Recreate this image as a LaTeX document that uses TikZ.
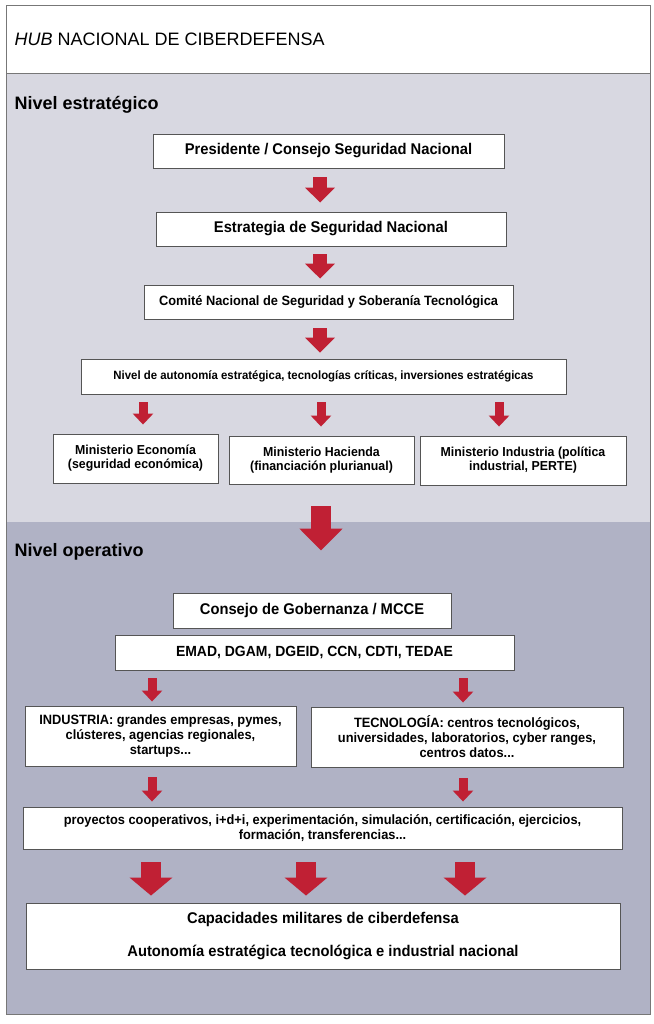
\documentclass[tikz,border=0pt]{standalone}
\usepackage{fontspec}
\usepackage[RGB]{xcolor}
\usetikzlibrary{arrows.meta}
\setmainfont{Liberation Sans}
\newfontfamily\narrowfont{Liberation Sans}[FakeStretch=0.95]
\definecolor{S}{RGB}{216,216,225}
\definecolor{O}{RGB}{176,178,197}
\definecolor{R}{RGB}{192,32,52}
\definecolor{B}{RGB}{85,85,85}
\newcommand{\fs}[2]{\fontsize{#1}{#2}\selectfont}
\newcommand{\drawregion}{\draw[draw=B!80, line width=0.9pt]}
\tikzset{
  box/.style={draw=B, line width=0.9pt, fill=white, align=center, inner sep=2pt,
    font=\narrowfont\bfseries},
  arrS/.style={draw=R, line width=9pt, -{Triangle[width=20pt,length=11pt]}, fill=R},
  arrM/.style={draw=R, line width=13.5pt, -{Triangle[width=29pt,length=15pt]}, fill=R},
  arrL/.style={draw=R, line width=20pt, -{Triangle[width=42pt,length=18pt]}, fill=R},
  arrXL/.style={draw=R, line width=20pt, -{Triangle[width=42pt,length=22pt]}, fill=R},
}
\begin{document}
\begin{tikzpicture}[x=1pt, y=-1pt]
\useasboundingbox[fill=white] (0,0) rectangle (653,1024);
\drawregion[fill=white] (6,5) rectangle (650,73);
\drawregion[fill=S] (6,73) rectangle (650,522);
\fill[O] (6,522) rectangle (650,1014);
\drawregion (6,5) rectangle (650,1014);
\node[anchor=west, font=\fs{18}{20}] (hub) at (11,39) {\textit{HUB} NACIONAL DE CIBERDEFENSA};
\node[anchor=west, font=\fs{18}{20}\bfseries] (estrat) at (11,105) {Nivel estratégico};
\node[anchor=west, font=\fs{18}{20}\bfseries] (operat) at (11,552) {Nivel operativo};
\node[box, minimum width=351, minimum height=34, font=\narrowfont\bfseries\fs{15.5}{17}] (presidente) at (328.5,151) {Presidente / Consejo Seguridad Nacional};
\node[box, minimum width=350, minimum height=34, font=\narrowfont\bfseries\fs{15.5}{17}] (estrategia) at (331,229) {Estrategia de Seguridad Nacional};
\node[box, minimum width=369, minimum height=34, font=\narrowfont\bfseries\fs{13.5}{15}] (comite) at (328.5,302) {Comité Nacional de Seguridad y Soberanía Tecnológica};
\node[box, minimum width=485, minimum height=35, font=\narrowfont\bfseries\fs{12}{14}] (autonomia) at (323.5,376.5) {Nivel de autonomía estratégica, tecnologías críticas, inversiones estratégicas};
\node[box, minimum width=165, minimum height=49, font=\narrowfont\bfseries\fs{13}{14}] (economia) at (135.5,458.5) {Ministerio Economía\\(seguridad económica)};
\node[box, minimum width=185, minimum height=48, font=\narrowfont\bfseries\fs{13}{14}] (hacienda) at (321.5,460) {Ministerio Hacienda\\(financiación plurianual)};
\node[box, minimum width=206, minimum height=49, font=\narrowfont\bfseries\fs{13}{14}] (industriamin) at (523,460.5) {Ministerio Industria (política\\industrial, PERTE)};
\node[box, minimum width=278, minimum height=35, font=\narrowfont\bfseries\fs{15.5}{17}] (consejo) at (312,610.5) {Consejo de Gobernanza / MCCE};
\node[box, minimum width=399, minimum height=35, font=\narrowfont\bfseries\fs{14.7}{17}] (emad) at (314.5,652.5) {EMAD, DGAM, DGEID, CCN, CDTI, TEDAE};
\node[box, minimum width=271, minimum height=60, font=\narrowfont\bfseries\fs{13.5}{15}] (industria) at (160.5,736) {INDUSTRIA: grandes empresas, pymes,\\clústeres, agencias regionales,\\startups...};
\node[box, minimum width=312, minimum height=60, font=\narrowfont\bfseries\fs{13.5}{15}] (tecno) at (467,737) {TECNOLOGÍA: centros tecnológicos,\\universidades, laboratorios, cyber ranges,\\centros datos...};
\node[box, minimum width=599, minimum height=42, font=\narrowfont\bfseries\fs{13.5}{15}] (proyectos) at (322.5,828) {proyectos cooperativos, i+d+i, experimentación, simulación, certificación, ejercicios,\\formación, transferencias...};
\node[box, minimum width=594, minimum height=66, font=\narrowfont\bfseries\fs{15.5}{16.5}] (capacidades) at (323,936) {Capacidades militares de ciberdefensa\\[16.5pt]Autonomía estratégica tecnológica e industrial nacional};
\draw[arrM, shorten <=9pt, shorten >=9pt] (presidente.south -| 320,0) -- (estrategia.north -| 320,0);
\draw[arrM, shorten <=8pt, shorten >=6pt] (estrategia.south -| 320,0) -- (comite.north -| 320,0);
\draw[arrM, shorten <=9pt, shorten >=6pt] (comite.south -| 320,0) -- (autonomia.north -| 320,0);
\foreach \x/\m in {143/economia,321/hacienda,499/industriamin}{
  \draw[arrS, shorten <=8pt, shorten >=9pt] (autonomia.south -| \x,0) -- (\m.north -| \x,0);
}
\draw[arrXL, shorten <=22pt, shorten >=42pt] (hacienda.south -| 321,0) -- (consejo.north -| 321,0);
\foreach \x/\m in {152/industria,463/tecno}{
  \draw[arrS, shorten <=8pt, shorten >=4pt] (emad.south -| \x,0) -- (\m.north -| \x,0);
  \draw[arrS, shorten <=11pt, shorten >=5pt] (\m.south -| \x,0) -- (proyectos.north -| \x,0);
}
\foreach \x in {151,306,465}{
  \draw[arrL, shorten <=13pt, shorten >=7pt] (proyectos.south -| \x,0) -- (capacidades.north -| \x,0);
}
\end{tikzpicture}
\end{document}
